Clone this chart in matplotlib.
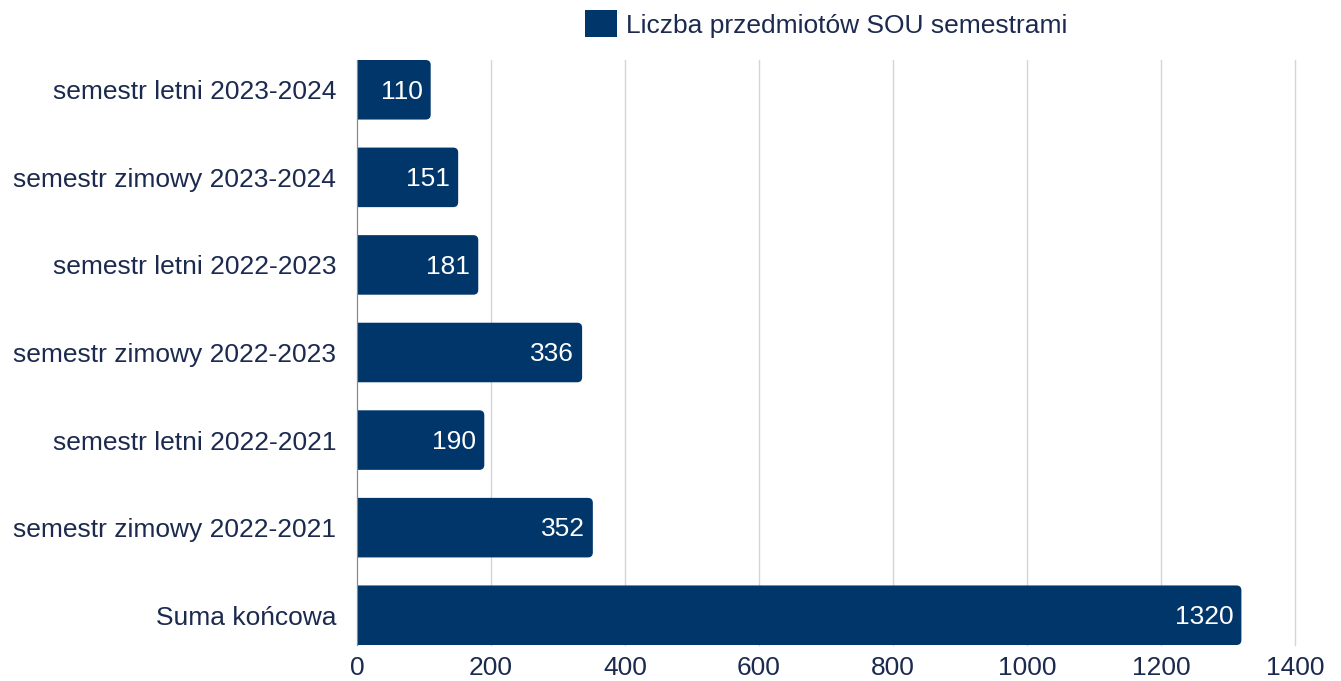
import matplotlib.pyplot as plt
from matplotlib.patches import FancyBboxPatch

# Data
categories = [
    "semestr letni 2023-2024",
    "semestr zimowy 2023-2024",
    "semestr letni 2022-2023",
    "semestr zimowy 2022-2023",
    "semestr letni 2022-2021",
    "semestr zimowy 2022-2021",
    "Suma końcowa",
]
values = [110, 151, 181, 336, 190, 352, 1320]
series_name = "Liczba przedmiotów SOU semestrami"
xticks = [0, 200, 400, 600, 800, 1000, 1200, 1400]

bar_color = "#00366a"
text_color = "#1b2a4e"

plt.rcParams['font.family'] = ['Liberation Sans', 'DejaVu Sans']
fs = 19

fig = plt.figure(figsize=(13.41, 6.81), dpi=100)
ax = fig.add_axes([357 / 1341, 1 - 645 / 681, (1295 - 357) / 1341, (645 - 60) / 681])

height = 0.68
ax.set_xlim(0, 1400)
ax.set_ylim(len(categories) - 1 + 0.34, -0.34)

# px -> data conversion for rounding the bar ends
px_x = 1400 / (1295 - 357)
px_y = (len(categories) - 1 + 0.68) / (645 - 60)
r = 5 * px_x
aspect = (5 * px_y) / r

for i, v in enumerate(values):
    patch = FancyBboxPatch((-20, i - height / 2), v + 20, height,
                           boxstyle=f"round,pad=0,rounding_size={r}",
                           mutation_aspect=aspect,
                           facecolor=bar_color, edgecolor="none", zorder=3)
    ax.add_patch(patch)
    ax.text(v - 8 * px_x, i + 0.02, str(v), color="white", fontsize=fs,
            ha="right", va="center", zorder=4)

# legend proxy
ax.barh([0], [0], color=bar_color, label=series_name)
leg = ax.legend(loc="lower center", bbox_to_anchor=(0.5, 1.0), frameon=False,
                fontsize=fs, handlelength=1.2, handleheight=1.2, handletextpad=0.35,
                borderaxespad=0.45)
for t in leg.get_texts():
    t.set_color(text_color)

ax.set_yticks(range(len(categories)))
ax.set_yticklabels(categories)
ax.set_xticks(xticks)
ax.set_xticklabels([str(x) for x in xticks])
ax.tick_params(axis="both", length=0, labelsize=fs, labelcolor=text_color)
ax.tick_params(axis="y", pad=15)
ax.tick_params(axis="x", pad=8)

ax.grid(axis="x", color="#d4d4e0", linewidth=1, zorder=0)
for gl in ax.get_xgridlines():
    gl.set_clip_on(False)
for s in ["top", "right", "bottom"]:
    ax.spines[s].set_visible(False)
ax.spines["left"].set_color("#8a8a8a")
ax.spines["left"].set_zorder(5)

fig.savefig("out.png", dpi=100)
